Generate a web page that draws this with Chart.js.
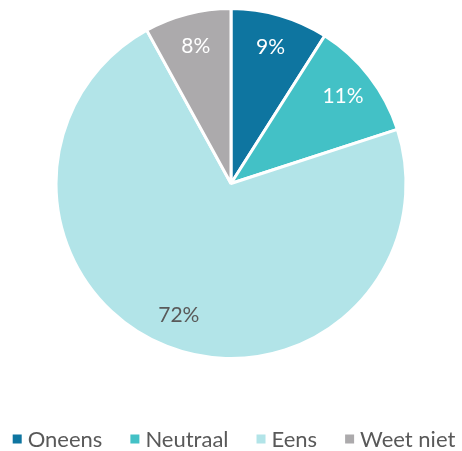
<!DOCTYPE html>
<html>
<head>
<meta charset="utf-8">
<script src="https://cdn.jsdelivr.net/npm/chart.js@4/dist/chart.umd.min.js"></script>
<style>
  html, body { margin: 0; padding: 0; background: #fff; }
  #wrap { width: 462px; height: 451px; }
</style>
</head>
<body>
<div id="wrap"><canvas id="chart"></canvas></div>
<script>
// chart data
const categories = ['Oneens', 'Neutraal', 'Eens', 'Weet niet'];
const percentages = [9, 11, 72, 8];
const sliceColors = ['#0E75A0', '#43C1C6', '#B2E4E8', '#ACAAAC'];
const labelColors = ['#FFFFFF', '#FFFFFF', '#595959', '#FFFFFF'];

// draws the percentage text inside each slice
const sliceLabels = {
    id: 'sliceLabels',
    afterDatasetsDraw(chart) {
        const ctx = chart.ctx;
        const meta = chart.getDatasetMeta(0);
        ctx.save();
        ctx.font = '21px Lato';
        ctx.textAlign = 'center';
        ctx.textBaseline = 'middle';
        meta.data.forEach((arc, i) => {
            const p = arc.getProps(['x', 'y', 'startAngle', 'endAngle', 'outerRadius'], true);
            const mid = (p.startAngle + p.endAngle) / 2;
            const r = p.outerRadius * 0.81;
            ctx.fillStyle = labelColors[i];
            ctx.fillText(percentages[i] + '%', p.x + Math.cos(mid) * r, p.y + Math.sin(mid) * r);
        });
        ctx.restore();
    }
};

// legend row under the pie (the built-in one wraps at this spacing)
const bottomLegend = {
    id: 'bottomLegend',
    afterDraw(chart) {
        const ctx = chart.ctx;
        const box = 9, textGap = 6, itemGap = 28;
        const y = 439;
        ctx.save();
        ctx.font = '22px Lato';
        ctx.textBaseline = 'middle';
        const widths = categories.map(c => box + textGap + ctx.measureText(c).width);
        const total = widths.reduce((a, b) => a + b, 0) + itemGap * (categories.length - 1);
        let x = (chart.width - total) / 2 + 3;
        categories.forEach((c, i) => {
            ctx.fillStyle = sliceColors[i];
            ctx.fillRect(x, y - box / 2, box, box);
            ctx.fillStyle = '#595959';
            ctx.fillText(c, x + box + textGap, y + 1);
            x += widths[i] + itemGap;
        });
        ctx.restore();
    }
};

new Chart(document.getElementById('chart'), {
    type: 'pie',
    data: {
        labels: categories,
        datasets: [{
            data: percentages,
            backgroundColor: sliceColors,
            borderColor: '#FFFFFF',
            borderWidth: 3
        }]
    },
    options: {
        responsive: true,
        maintainAspectRatio: false,
        animation: false,
        layout: { padding: { top: 7, bottom: 91 } },
        plugins: {
            tooltip: { enabled: false },
            legend: { display: false }
        }
    },
    plugins: [sliceLabels, bottomLegend]
});
</script>
</body>
</html>
